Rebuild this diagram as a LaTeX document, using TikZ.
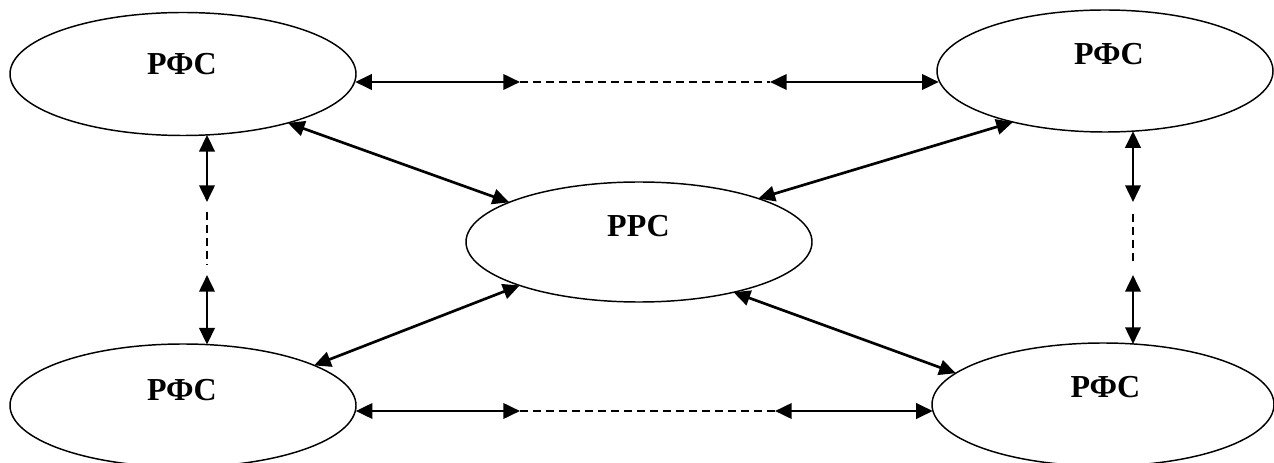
\documentclass[tikz,border=0pt]{standalone}
\usepackage{fontspec}
\setmainfont{Liberation Serif}
\usetikzlibrary{shapes.geometric,arrows.meta}
\begin{document}
\begin{tikzpicture}[x=0.75pt,y=-0.75pt,
  oval/.style={draw,ellipse,line width=1.1pt,inner sep=0pt,outer sep=0pt},
  lbl/.style={font=\fontsize{24}{28}\selectfont\bfseries,anchor=base,inner sep=0pt},
  link/.style={line width=2pt,{Triangle[length=12.5pt,width=11.5pt]}-{Triangle[length=12.5pt,width=11.5pt]}},
  gap/.style={line width=1.3pt,dash pattern=on 6pt off 3.75pt}]
\useasboundingbox (0,0) rectangle (1274,463);

% ellipses
\node[oval,minimum width=346*0.75pt,minimum height=123*0.75pt] (tl) at (183,74) {};
\node[oval,minimum width=336*0.75pt,minimum height=122*0.75pt] (tr) at (1105,71) {};
\node[oval,minimum width=346*0.75pt,minimum height=120*0.75pt] (c) at (639,242) {};
\node[oval,minimum width=346*0.75pt,minimum height=123*0.75pt] (bl) at (183,405.5) {};
\node[oval,minimum width=342*0.75pt,minimum height=123*0.75pt] (br) at (1103,404.5) {};

% labels
\node[lbl] (tlt) at (182,75) {РФС};
\node[lbl] (trt) at (1109,65) {РФС};
\node[lbl] (ct) at (638.5,237) {РРС};
\node[lbl] (blt) at (182,400) {РФС};
\node[lbl] (brt) at (1105.5,397) {РФС};

% junction points of dashed parts
\coordinate (h1a) at (520,82);
\coordinate (h1b) at (770,82);
\coordinate (h2a) at (520,411);
\coordinate (h2b) at (775,411);
\coordinate (v1a) at (207,202);
\coordinate (v1b) at (207,275);
\coordinate (v2a) at (1133,202);
\coordinate (v2b) at (1133,275);

% top horizontal
\draw[link] (tl.-2.67 |- h1a) -- (h1a);
\draw[gap] (h1a) -- (h1b);
\draw[link] (h1b) -- (tr.183.81 |- h1b);
% bottom horizontal
\draw[link] (bl.-1.83 |- h2a) -- (h2a);
\draw[gap] (h2a) -- (h2b);
\draw[link] (h2b) -- (br.182.19 |- h2b);
% left vertical
\draw[link] (tl.-68.5 -| v1a) -- (v1a);
\draw[gap,shorten <=10pt*0.75,shorten >=10pt*0.75] (v1a) -- (v1b);
\draw[link] (v1b) -- (bl.68.5 -| v1b);
% right vertical
\draw[link] (tr.-65 -| v2a) -- (v2a);
\draw[gap,shorten <=12pt*0.75,shorten >=10pt*0.75] (v2a) -- (v2b);
\draw[link] (v2b) -- (br.63.6 -| v2b);
% diagonals
\draw[link] (tl.-25.9) -- (c.163.9);
\draw[link] (c.20.46) -- (tr.209.4);
\draw[link] (bl.17.3) -- (c.200.2);
\draw[link] (c.-28.8) -- (br.168);
\end{tikzpicture}
\end{document}
